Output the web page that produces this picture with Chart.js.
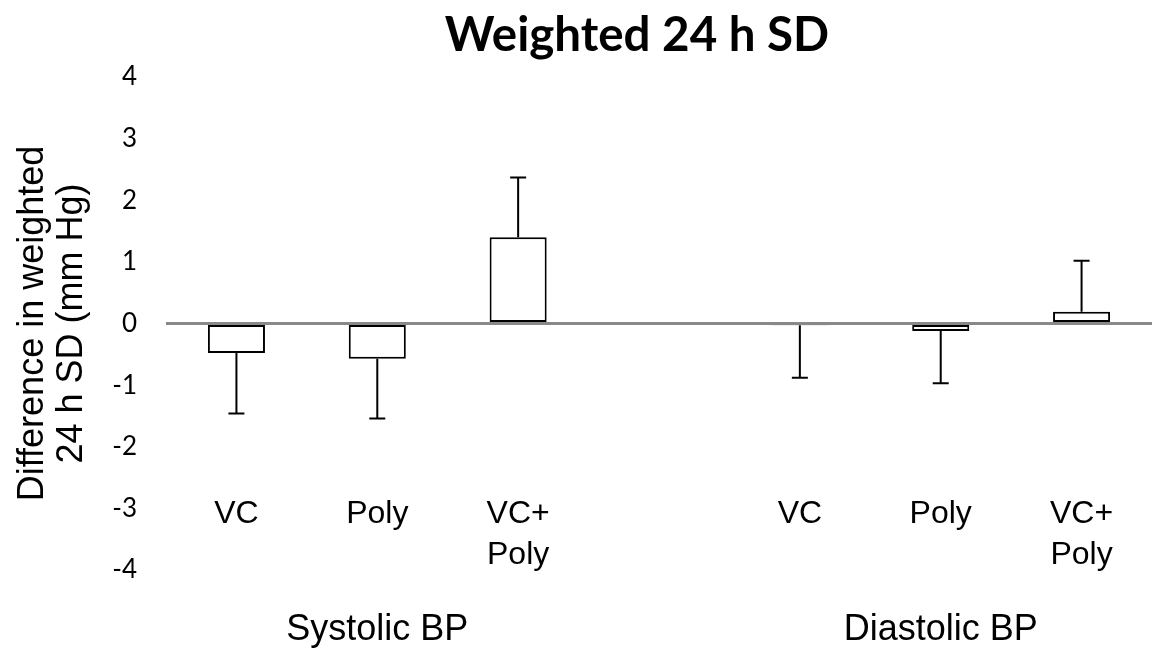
<!DOCTYPE html>
<html>
<head>
<meta charset="utf-8">
<script src="https://cdn.jsdelivr.net/npm/chart.js@4"></script>
<style>
  html, body { margin: 0; padding: 0; background: #fff; }
  #wrap { width: 1152px; height: 649px; position: relative; }
</style>
</head>
<body>
<div id="wrap"><canvas id="myChart"></canvas></div>
<script>
const chartTitle = 'Weighted 24 h SD';
const yAxisTitle = ['Difference in weighted', '24 h SD (mm Hg)'];
const categories = ['VC', 'Poly', 'VC+\nPoly', '', 'VC', 'Poly', 'VC+\nPoly'];
const diffValues = [-0.48, -0.57, 1.40, null, -0.03, -0.12, 0.19];
const errValues = [0.98, 0.97, 0.97, null, 0.85, 0.85, 0.83];
const groupNames = ['Systolic BP', 'Diastolic BP'];
const groupMembers = [[0, 1, 2], [4, 5, 6]];
const yTicks = [-4, -3, -2, -1, 0, 1, 2, 3, 4];

// error bars, category labels, group labels and the title
const extras = {
    id: 'extras',
    afterDatasetsDraw(chart) {
        const ctx = chart.ctx;
        const x = chart.scales.x, y = chart.scales.y;
        ctx.save();
        ctx.strokeStyle = '#000';
        ctx.lineWidth = 2;
        diffValues.forEach((v, i) => {
            if (v == null) return;
            const px = x.getPixelForValue(i);
            const end = v < 0 ? v - errValues[i] : v + errValues[i];
            const y0 = y.getPixelForValue(v), y1 = y.getPixelForValue(end);
            ctx.beginPath();
            ctx.moveTo(px, y0);
            ctx.lineTo(px, y1);
            ctx.moveTo(px - 8, y1);
            ctx.lineTo(px + 8, y1);
            ctx.stroke();
        });
        ctx.restore();
    },
    afterDraw(chart) {
        const ctx = chart.ctx;
        const x = chart.scales.x, y = chart.scales.y;
        ctx.save();
        ctx.fillStyle = '#000';
        ctx.textAlign = 'center';
        ctx.textBaseline = 'middle';

        ctx.font = 'bold 47.5px Lato';
        ctx.fillText(chartTitle, 637, 36);

        ctx.font = '32px "Liberation Sans"';
        const labelY = y.getPixelForValue(-3) + 6;
        categories.forEach((c, i) => {
            c.split('\n').forEach((line, k) => {
                ctx.fillText(line, x.getPixelForValue(i), labelY + k * 41);
            });
        });

        ctx.font = '36px "Liberation Sans"';
        groupNames.forEach((g, j) => {
            const m = groupMembers[j];
            const cx = (x.getPixelForValue(m[0]) + x.getPixelForValue(m[m.length - 1])) / 2;
            ctx.fillText(g, cx, 630);
        });
        ctx.restore();
    }
};

const ctx = document.getElementById('myChart');

const chart = new Chart(ctx, {
    type: 'bar',
    data: {
        labels: categories,
        datasets: [{
            data: diffValues,
            backgroundColor: '#fff',
            borderColor: '#000',
            borderWidth: 2,
            borderSkipped: false,
            categoryPercentage: 1,
            barPercentage: 0.405
        }]
    },
    options: {
        responsive: true,
        maintainAspectRatio: false,
        animation: false,
        layout: { padding: { top: 77, bottom: 79, left: 0, right: 0 } },
        plugins: {
            legend: { display: false },
            tooltip: { enabled: false }
        },
        scales: {
            x: { display: false },
            y: {
                min: yTicks[0],
                max: yTicks[yTicks.length - 1],
                z: 1,
                ticks: {
                    stepSize: 1,
                    padding: 29,
                    color: '#000',
                    font: { family: 'Lato', size: 26 }
                },
                grid: {
                    drawTicks: false,
                    lineWidth: 3,
                    color: (c) => c.tick && c.tick.value === 0 ? '#898989' : 'rgba(0,0,0,0)'
                },
                border: { display: false },
                title: {
                    display: true,
                    text: yAxisTitle,
                    color: '#000',
                    font: { family: '"Liberation Sans"', size: 36, lineHeight: 1.1 },
                    padding: { top: 13, bottom: 0 }
                },
                afterFit(s) { s.width = 166; }
            }
        }
    },
    plugins: [extras]
});
</script>
</body>
</html>
